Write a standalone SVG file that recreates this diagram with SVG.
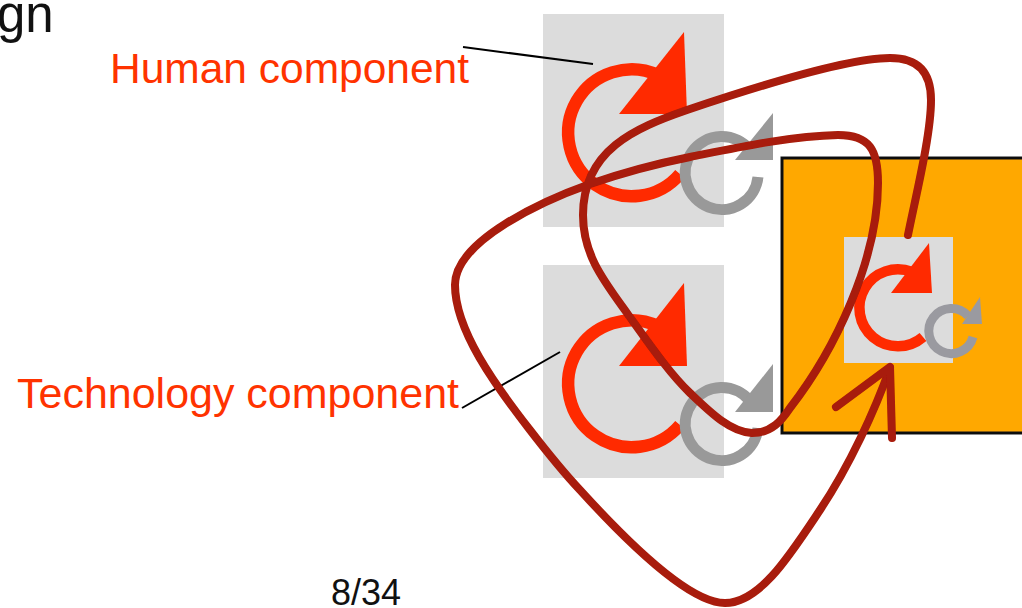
<svg xmlns="http://www.w3.org/2000/svg" width="1022" height="608" viewBox="0 0 1022 608">
<defs><filter id="soft" x="-2%" y="-2%" width="104%" height="104%"><feGaussianBlur stdDeviation="0.6"/></filter></defs>
<style>
text{font-family:"Liberation Sans",Arial,sans-serif}
.lbl{font-size:42.8px;fill:#ff3300}
.blk{fill:#111}
.box{fill:#dcdcdc}
.r{fill:none;stroke:#ff2a00;stroke-width:12.5}
.rf{fill:#ff2a00}
.g{fill:none;stroke:#999;stroke-width:11}
.gf{fill:#999}
.lead{stroke:#000;stroke-width:2;fill:none}
.loop{fill:none;stroke:#a81a08;stroke-width:8;stroke-linecap:round;stroke-linejoin:round}
</style>
<rect width="1022" height="608" fill="#fff"/>
<text class="blk" x="-3" y="32" font-size="51">gn</text>
<g filter="url(#soft)">
<g id="orange-box"><rect x="782" y="158" width="250" height="275" fill="#ffa800" stroke="#111" stroke-width="3"/></g>
<g id="human-component">
<rect class="box" x="543" y="14" width="181" height="213"/>
<path class="r" d="M680 174A63.5 63.5 0 1 1 658 75"/>
<path class="rf" d="M684 32L687 114H619Z"/>
<path class="g" d="M758 177A36.5 36.5 0 1 1 750 150"/>
<path class="gf" d="M773 113V160H735Z"/>
</g>
<g id="technology-component">
<rect class="box" x="543" y="265" width="181" height="213"/>
<path class="r" d="M680 425A63.5 63.5 0 1 1 658 326"/>
<path class="rf" d="M684 283L687 366H619Z"/>
<path class="g" d="M758 428A36.5 36.5 0 1 1 750 401"/>
<path class="gf" d="M773 364V412H735Z"/>
</g>
<g id="combined-component">
<rect class="box" x="844" y="237" width="109" height="126"/>
<path class="r" style="stroke-width:10.5" d="M923 337A38.5 38.5 0 1 1 912 272"/>
<path class="rf" d="M929 243L932 293H891Z"/>
<path class="g" style="stroke-width:9;stroke:#9a9aa0" d="M973 337A22.5 22.5 0 1 1 968 316"/>
<path class="gf" style="fill:#9a9aa0" d="M980 297L982 324H962Z"/>
</g>
<g id="connectors">
<path class="lead" d="M463 47L593 64"/>
<path class="lead" d="M462 408L560 352"/>
<path class="loop" d="M908 235C916 195 931 135 931 100C931 72 918 58 890 58C850 58 770 82 687 110C635 128 583 150 583 215C583 255 604 281 627 313C650 345 670 374 690 393C710 412 730 432 752 433C772 433 782 420 790 408C835 350 878 260 878 183C878 150 870 135 838 135C790 136 735 148 690 157C650 165 625 172 590 184C545 200 455 240 455 285C455 330 495 385 530 430C547 452 563 472 580 490C630 545 690 603 725 603C760 603 790 555 820 510C850 465 875 410 890 368"/>
<path class="loop" d="M836 407L890 367L892 438"/>
</g>
</g>
<g id="labels">
<text class="lbl" x="110" y="83" textLength="359" lengthAdjust="spacingAndGlyphs">Human component</text>
<text class="lbl" x="17" y="408" textLength="442" lengthAdjust="spacingAndGlyphs">Technology component</text>
<text class="blk" x="331" y="605" font-size="36">8/34</text>
</g>
</svg>
